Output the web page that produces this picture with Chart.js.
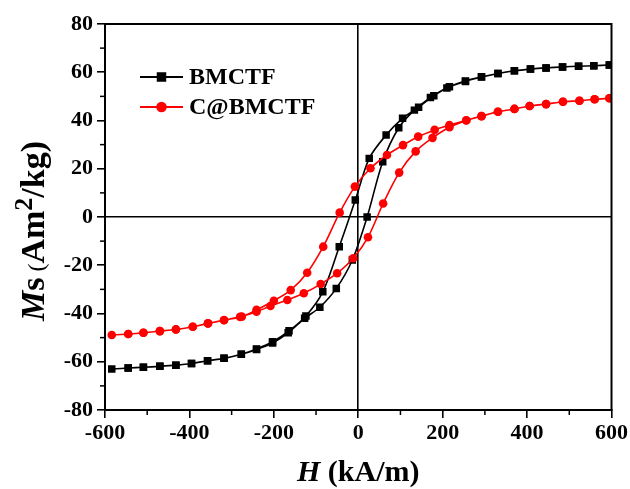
<!DOCTYPE html>
<html>
<head>
<meta charset="utf-8">
<script src="https://cdn.jsdelivr.net/npm/chart.js@4.4.1/dist/chart.umd.min.js"></script>
<style>
  html, body { margin: 0; padding: 0; background: #fff; }
</style>
</head>
<body>
<canvas id="myChart" width="630" height="489"></canvas>
<script>
// BMCTF loop: field going down from +600, then back up
const blackH = [595, 558, 522, 484, 445, 408, 370, 331, 292, 254, 216, 179, 143, 105, 66, 26, -7, -45, -84, -124,
  -164, -203, -241, -277, -318, -357, -395, -432, -470, -509, -545, -584,
  -545, -509, -470, -432, -395, -357, -318, -277, -241, -203, -166, -127, -91, -52, -14, 21, 58, 96, 133, 171,
  210, 254, 292, 331, 370, 408, 445, 484, 522, 558, 595];
const blackM = [63.0, 62.7, 62.5, 62.2, 61.8, 61.3, 60.6, 59.5, 58.1, 56.4, 54.0, 50.3, 45.5, 40.9, 34.0, 24.3, 7.0, -12.3, -31.0, -41.0,
  -47.2, -51.7, -54.7, -56.9, -58.6, -59.6, -60.7, -61.4, -61.9, -62.3, -62.6, -63.0,
  -62.6, -62.3, -61.9, -61.4, -60.7, -59.6, -58.6, -56.9, -54.9, -52.2, -48.0, -42.0, -37.4, -29.6, -17.8, 0, 22.9, 37.0, 44.3, 49.5,
  53.5, 56.2, 58.0, 59.5, 60.6, 61.3, 61.8, 62.2, 62.5, 62.7, 63.0];

// C@BMCTF loop
const redH = [595, 560, 524, 485, 445, 406, 370, 331, 292, 256, 216, 181, 142, 106, 68, 29, -8, -44, -83, -121,
  -160, -200, -241, -276, -318, -356, -392, -432, -470, -509, -545, -584,
  -545, -509, -470, -432, -392, -356, -318, -280, -241, -208, -168, -129, -89, -50, -12, 23, 59, 97, 136, 176,
  216, 256, 292, 331, 370, 406, 445, 485, 524, 560, 595];
const redM = [49.2, 48.8, 48.2, 47.8, 46.8, 46.0, 44.8, 43.6, 41.8, 40.1, 38.1, 36.1, 33.3, 29.8, 25.7, 20.2, 12.6, 1.8, -12.3, -23.1,
  -30.3, -34.7, -38.5, -41.3, -42.7, -44.1, -45.5, -46.6, -47.3, -48.0, -48.5, -48.9,
  -48.5, -48.0, -47.3, -46.6, -45.5, -44.1, -42.8, -41.4, -39.3, -36.9, -34.4, -31.6, -27.8, -23.3, -17.1, -8.4, 5.6, 18.4, 27.2, 32.8,
  37.2, 40.0, 41.8, 43.6, 44.8, 46.0, 46.8, 47.8, 48.2, 48.8, 49.2];

const seriesNames = ["BMCTF", "C@BMCTF"];
const xTicks = [-600, -400, -200, 0, 200, 400, 600];
const yTicks = [-80, -60, -40, -20, 0, 20, 40, 60, 80];
const xMinor = [-500, -300, -100, 100, 300, 500];
const yMinor = [-70, -50, -30, -10, 10, 30, 50, 70];

const SERIF = '"Liberation Serif", "Times New Roman", serif';

const toPoints = (xs, ys) => xs.map((v, i) => ({ x: v, y: ys[i] }));

// frame, minor ticks, legend and axis titles
const decorations = {
  id: "decorations",
  afterDraw(chart) {
    const { ctx, chartArea: a, scales: { x, y } } = chart;
    ctx.save();
    ctx.strokeStyle = "#000";
    ctx.lineWidth = 2;
    ctx.strokeRect(a.left, a.top, a.right - a.left, a.bottom - a.top);

    ctx.lineWidth = 1.5;
    xMinor.forEach(v => {
      const px = x.getPixelForValue(v);
      ctx.beginPath(); ctx.moveTo(px, a.bottom); ctx.lineTo(px, a.bottom + 5); ctx.stroke();
    });
    yMinor.forEach(v => {
      const py = y.getPixelForValue(v);
      ctx.beginPath(); ctx.moveTo(a.left, py); ctx.lineTo(a.left - 5, py); ctx.stroke();
    });

    // legend
    const items = [
      { name: seriesNames[0], color: "#000", style: "rect", y: 77 },
      { name: seriesNames[1], color: "#ff0000", style: "circle", y: 107 }
    ];
    items.forEach(it => {
      ctx.strokeStyle = it.color;
      ctx.fillStyle = it.color;
      ctx.lineWidth = 2;
      ctx.beginPath(); ctx.moveTo(140, it.y); ctx.lineTo(183, it.y); ctx.stroke();
      Chart.helpers.drawPoint(ctx, { pointStyle: it.style, radius: it.style === "rect" ? 5.3 : 4.3, rotation: 0, borderWidth: 1 }, 161.5, it.y);
      ctx.fillStyle = "#000";
      ctx.font = "bold 24px " + SERIF;
      ctx.textBaseline = "middle";
      ctx.textAlign = "left";
      ctx.fillText(it.name, 189, it.y + 1);
    });

    // x title: H (kA/m)
    ctx.fillStyle = "#000";
    ctx.textBaseline = "alphabetic";
    const xParts = [
      { t: "H", f: "italic bold 30px " + SERIF },
      { t: " (kA/m)", f: "bold 30px " + SERIF }
    ];
    drawParts(ctx, xParts, (a.left + a.right) / 2, 481);

    // y title: Ms (Am2/kg), rotated
    ctx.save();
    ctx.translate(44, 231);
    ctx.rotate(-Math.PI / 2);
    const yParts = [
      { t: "M", f: "italic bold 34px " + SERIF },
      { t: "s", f: "bold 34px " + SERIF },
      { t: " (", f: "24px " + SERIF },
      { t: "Am", f: "bold 34px " + SERIF },
      { t: "2", f: "bold 26px " + SERIF, dy: -12 },
      { t: "/kg)", f: "bold 34px " + SERIF }
    ];
    drawParts(ctx, yParts, 0, 0);
    ctx.restore();
    ctx.restore();
  }
};

function drawParts(ctx, parts, cx, baseY) {
  let total = 0;
  parts.forEach(p => { ctx.font = p.f; p.w = ctx.measureText(p.t).width; total += p.w; });
  let px = cx - total / 2;
  ctx.textAlign = "left";
  parts.forEach(p => {
    ctx.font = p.f;
    ctx.fillText(p.t, px, baseY + (p.dy || 0));
    px += p.w;
  });
}

const tickFont = { family: SERIF, weight: "bold", size: 22 };

const ctx = document.getElementById("myChart").getContext("2d");
new Chart(ctx, {
  type: "scatter",
  data: {
    datasets: [
      {
        label: seriesNames[1],
        data: toPoints(redH, redM),
        showLine: true,
        borderColor: "#ff0000",
        backgroundColor: "#ff0000",
        borderWidth: 1.6,
        pointStyle: "circle",
        pointRadius: 4.3,
        pointBorderWidth: 0,
        tension: 0.3,
        order: 0
      },
      {
        label: seriesNames[0],
        data: toPoints(blackH, blackM),
        showLine: true,
        borderColor: "#000",
        backgroundColor: "#000",
        borderWidth: 1.6,
        pointStyle: "rect",
        pointRadius: 5.3,
        pointBorderWidth: 0,
        tension: 0.3,
        order: 1
      }
    ]
  },
  options: {
    responsive: false,
    animation: false,
    devicePixelRatio: 1,
    layout: { padding: { top: 24, right: 18, left: 0, bottom: 0 } },
    plugins: {
      legend: { display: false },
      tooltip: { enabled: false }
    },
    scales: {
      x: {
        type: "linear",
        min: -600,
        max: 600,
        afterBuildTicks: scale => { scale.ticks = xTicks.map(v => ({ value: v })); },
        afterFit: scale => { scale.height = 79; },
        ticks: { color: "#000", font: tickFont, padding: 2, maxRotation: 0, autoSkip: false },
        grid: {
          color: c => (c.tick && c.tick.value === 0 ? "#000" : "rgba(0,0,0,0)"),
          lineWidth: 1.6,
          tickColor: "#000",
          tickLength: 8,
          tickWidth: 1.6
        },
        border: { display: true, color: "#000", width: 2 }
      },
      y: {
        type: "linear",
        min: -80,
        max: 80,
        afterBuildTicks: scale => { scale.ticks = yTicks.map(v => ({ value: v })); },
        afterFit: scale => { scale.width = 105; },
        ticks: { color: "#000", font: tickFont, padding: 4, autoSkip: false },
        grid: {
          color: c => (c.tick && c.tick.value === 0 ? "#000" : "rgba(0,0,0,0)"),
          lineWidth: 1.6,
          tickColor: "#000",
          tickLength: 8,
          tickWidth: 1.6
        },
        border: { display: true, color: "#000", width: 2 }
      }
    }
  },
  plugins: [decorations]
});
</script>
</body>
</html>
